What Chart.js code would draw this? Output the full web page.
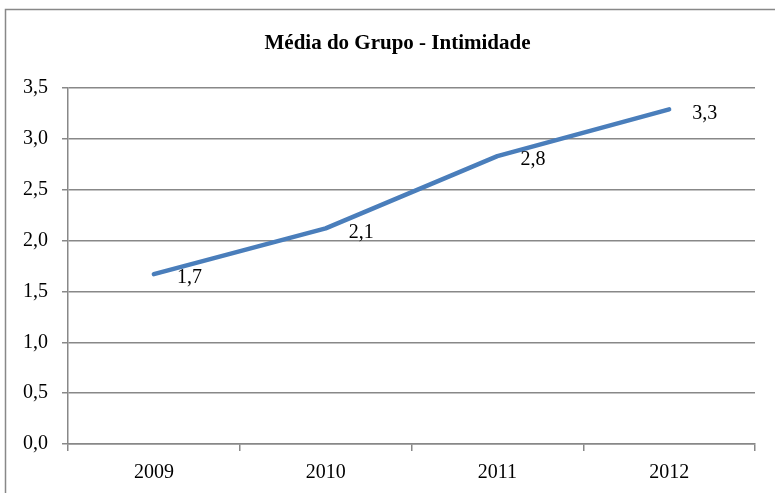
<!DOCTYPE html>
<html>
<head>
<meta charset="utf-8">
<script src="https://cdn.jsdelivr.net/npm/chart.js@4"></script>
<style>
  html, body { margin: 0; padding: 0; background: #fff; }
  #wrap { width: 775px; height: 493px; }
</style>
</head>
<body>
<div id="wrap"><canvas id="chart" width="775" height="493"></canvas></div>
<script>
// dados do gráfico
const categorias = ['2009', '2010', '2011', '2012'];
const mediaGrupo = [1.67, 2.12, 2.83, 3.29];
const tituloGrafico = 'Média do Grupo - Intimidade';

const fonteSerif = "'Liberation Serif', 'Times New Roman', serif";
const corGrade = '#888888';

// formata número com vírgula decimal
function formatar(v) {
    return Number(v).toFixed(1).replace('.', ',');
}

// moldura externa e título do gráfico
const moldura = {
    id: 'moldura',
    beforeDraw(chart) {
        const ctx = chart.ctx;
        ctx.save();
        ctx.fillStyle = '#fff';
        ctx.fillRect(0, 0, chart.width, chart.height);
        ctx.strokeStyle = corGrade;
        ctx.lineWidth = 1.5;
        ctx.strokeRect(5.5, 9.5, chart.width + 20, chart.height + 20);

        ctx.font = 'bold 21px ' + fonteSerif;
        ctx.fillStyle = '#000';
        ctx.textAlign = 'center';
        ctx.textBaseline = 'middle';
        ctx.fillText(tituloGrafico, 397.5, 44);
        ctx.restore();
    }
};

// rótulos de dados à direita dos pontos
const rotulos = {
    id: 'rotulos',
    afterDatasetsDraw(chart) {
        const ctx = chart.ctx;
        const meta = chart.getDatasetMeta(0);
        ctx.save();
        ctx.font = '20px ' + fonteSerif;
        ctx.fillStyle = '#000';
        ctx.textAlign = 'left';
        ctx.textBaseline = 'middle';
        meta.data.forEach((pt, i) => {
            ctx.fillText(formatar(mediaGrupo[i]), pt.x + 23, pt.y + 4);
        });
        ctx.restore();
    }
};

new Chart(document.getElementById('chart'), {
    type: 'line',
    data: {
        labels: categorias,
        datasets: [{
            label: 'Média',
            data: mediaGrupo,
            borderColor: '#4a7ebb',
            borderWidth: 4.5,
            borderCapStyle: 'round',
            borderJoinStyle: 'round',
            pointRadius: 0,
            tension: 0,
            fill: false
        }]
    },
    options: {
        responsive: false,
        animation: false,
        layout: { padding: { left: 22, right: 20, top: 88, bottom: 0 } },
        plugins: {
            legend: { display: false },
            tooltip: { enabled: false },
            title: { display: false }
        },
        scales: {
            x: {
                offset: true,
                grid: { offset: true, drawOnChartArea: false, tickLength: 7, color: corGrade, lineWidth: 1.5 },
                border: { color: corGrade, width: 1.5 },
                ticks: { color: '#000', padding: 10, font: { family: fonteSerif, size: 20 } },
                afterFit(scale) { scale.height = 49; }
            },
            y: {
                min: 0,
                max: 3.5,
                grid: { tickLength: 6, color: corGrade, lineWidth: 1.5 },
                border: { color: corGrade, width: 1.5 },
                ticks: {
                    stepSize: 0.5,
                    color: '#000',
                    padding: 14,
                    font: { family: fonteSerif, size: 20 },
                    callback: v => formatar(v)
                },
                afterFit(scale) { scale.width = 46; }
            }
        }
    },
    plugins: [moldura, rotulos]
});
</script>
</body>
</html>
